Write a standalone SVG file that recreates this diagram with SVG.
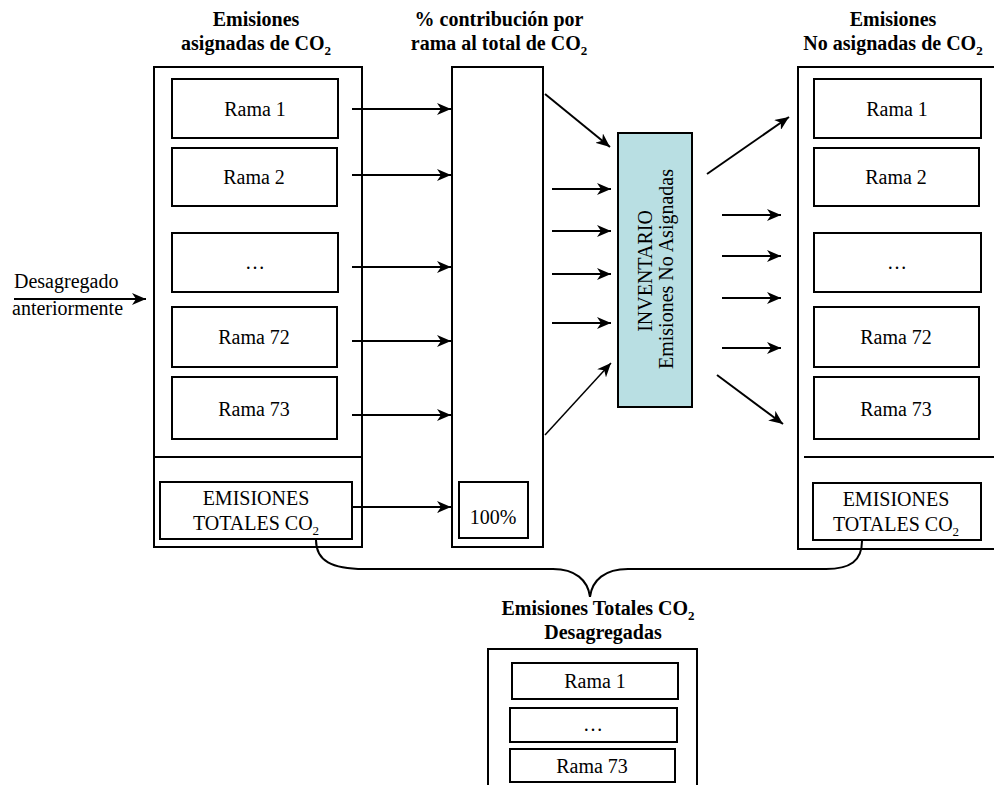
<svg xmlns="http://www.w3.org/2000/svg" width="994" height="785" viewBox="0 0 994 785">
  <defs>
    <marker id="arrow" markerUnits="userSpaceOnUse" markerWidth="16" markerHeight="12" refX="14" refY="6" orient="auto">
      <path d="M0,0 L14,6 L0,12 L4,6 Z" fill="#000"/>
    </marker>
    <style>
      .box { fill: #fff; stroke: #000; stroke-width: 2; }
      .frame { fill: none; stroke: #000; stroke-width: 2; }
      .inv { fill: #b9dfe3; stroke: #000; stroke-width: 2; }
      .t { font-family: "Liberation Serif", "Times New Roman", serif; font-size: 20px; fill: #000; }
      .c { text-anchor: middle; }
      .h { font-family: "Liberation Serif", "Times New Roman", serif; font-size: 20px; font-weight: bold; fill: #000; text-anchor: middle; }
      .sub { font-size: 13px; }
      .arr { stroke: #000; stroke-width: 2; fill: none; marker-end: url(#arrow); }
      .thin { stroke-width: 1.5; }
      .brace { stroke: #000; stroke-width: 2; fill: none; }
    </style>
  </defs>

  <!-- column headings -->
  <g id="heading-assigned">
    <text class="h" x="256" y="26">Emisiones</text>
    <text class="h" x="256" y="50">asignadas de CO<tspan class="sub" dy="5">2</tspan></text>
  </g>
  <g id="heading-contribution">
    <text class="h" x="499" y="26">% contribución por</text>
    <text class="h" x="499" y="50">rama al total de CO<tspan class="sub" dy="5">2</tspan></text>
  </g>
  <g id="heading-unassigned">
    <text class="h" x="893" y="26">Emisiones</text>
    <text class="h" x="893" y="50">No asignadas de CO<tspan class="sub" dy="5">2</tspan></text>
  </g>

  <!-- left column: assigned emissions -->
  <g id="assigned">
    <rect class="frame" x="154" y="67" width="208" height="480"/>
    <line x1="154" y1="457" x2="362" y2="457" stroke="#000" stroke-width="2"/>
    <g id="a-rama1"><rect class="box" x="172" y="79" width="166" height="59"/><text class="t c" x="255" y="116">Rama 1</text></g>
    <g id="a-rama2"><rect class="box" x="172" y="148" width="165" height="58"/><text class="t c" x="254" y="184">Rama 2</text></g>
    <g id="a-dots"><rect class="box" x="172" y="233" width="166" height="59"/><text class="t c" x="255" y="269">…</text></g>
    <g id="a-rama72"><rect class="box" x="172" y="307" width="165" height="60"/><text class="t c" x="254" y="344">Rama 72</text></g>
    <g id="a-rama73"><rect class="box" x="172" y="377" width="165" height="62"/><text class="t c" x="254" y="416">Rama 73</text></g>
    <g id="a-total">
      <rect class="box" x="160" y="482" width="192" height="57"/>
      <text class="t c" x="256" y="505">EMISIONES</text>
      <text class="t c" x="256" y="530">TOTALES CO<tspan class="sub" dy="5">2</tspan></text>
    </g>
  </g>

  <!-- middle column: share per branch -->
  <g id="contribution">
    <rect class="frame" x="452" y="67" width="91" height="480"/>
    <g id="c-total"><rect class="box" x="459" y="482" width="69" height="56"/><text class="t c" x="493" y="524">100%</text></g>
  </g>

  <!-- inventory of unassigned emissions -->
  <g id="inventario">
    <rect class="inv" x="618" y="133" width="74" height="274"/>
    <text class="t c" transform="translate(652,271) rotate(-90)">INVENTARIO</text>
    <text class="t c" transform="translate(673,269) rotate(-90)">Emisiones No Asignadas</text>
  </g>

  <!-- right column: unassigned emissions -->
  <g id="unassigned">
    <path class="frame" d="M1000,67 L798,67 L798,549 L1000,549"/>
    <line x1="804" y1="457" x2="994" y2="457" stroke="#000" stroke-width="2"/>
    <g id="u-rama1"><rect class="box" x="814" y="79" width="167" height="59"/><text class="t c" x="897" y="116">Rama 1</text></g>
    <g id="u-rama2"><rect class="box" x="814" y="148" width="165" height="58"/><text class="t c" x="896" y="184">Rama 2</text></g>
    <g id="u-dots"><rect class="box" x="814" y="233" width="167" height="59"/><text class="t c" x="897" y="269">…</text></g>
    <g id="u-rama72"><rect class="box" x="814" y="307" width="165" height="60"/><text class="t c" x="896" y="344">Rama 72</text></g>
    <g id="u-rama73"><rect class="box" x="814" y="377" width="165" height="62"/><text class="t c" x="896" y="416">Rama 73</text></g>
    <g id="u-total">
      <rect class="box" x="813" y="483" width="168" height="57"/>
      <text class="t c" x="896" y="506">EMISIONES</text>
      <text class="t c" x="896" y="531">TOTALES CO<tspan class="sub" dy="5">2</tspan></text>
    </g>
  </g>

  <!-- input label -->
  <g id="desagregado">
    <text class="t" x="14" y="288">Desagregado</text>
    <text class="t" x="12" y="315">anteriormente</text>
  </g>

  <!-- bottom: disaggregated totals -->
  <g id="heading-total">
    <text class="h" x="598" y="615">Emisiones Totales CO<tspan class="sub" dy="5">2</tspan></text>
    <text class="h" x="603" y="639">Desagregadas</text>
  </g>
  <g id="disaggregated">
    <path class="frame" d="M488,790 L488,649 L697,649 L697,790"/>
    <g id="d-rama1"><rect class="box" x="512" y="663" width="166" height="36"/><text class="t c" x="595" y="688">Rama 1</text></g>
    <g id="d-dots"><rect class="box" x="510" y="708" width="167" height="34"/><text class="t c" x="593" y="731">…</text></g>
    <g id="d-rama73"><rect class="box" x="510" y="749" width="165" height="33"/><text class="t c" x="592" y="773">Rama 73</text></g>
  </g>

  <!-- connectors -->
  <g id="connectors">
    <line class="arr" x1="14" y1="299" x2="146" y2="299"/>
    <line class="arr" x1="352" y1="109" x2="451" y2="109"/>
    <line class="arr" x1="352" y1="175" x2="451" y2="175"/>
    <line class="arr" x1="352" y1="267" x2="451" y2="267"/>
    <line class="arr" x1="352" y1="341" x2="451" y2="341"/>
    <line class="arr" x1="352" y1="415" x2="451" y2="415"/>
    <line class="arr" x1="352" y1="507" x2="451" y2="507"/>

    <line class="arr" x1="545" y1="94" x2="610" y2="147"/>
    <line class="arr" x1="552" y1="189" x2="611" y2="189"/>
    <line class="arr" x1="552" y1="231" x2="611" y2="231"/>
    <line class="arr" x1="552" y1="274" x2="611" y2="274"/>
    <line class="arr" x1="552" y1="323" x2="611" y2="323"/>
    <line class="arr thin" x1="545" y1="435" x2="611" y2="363"/>

    <line class="arr" x1="707" y1="174" x2="789" y2="117"/>
    <line class="arr" x1="722" y1="215" x2="781" y2="215"/>
    <line class="arr" x1="722" y1="256" x2="781" y2="256"/>
    <line class="arr" x1="722" y1="298" x2="781" y2="298"/>
    <line class="arr" x1="722" y1="348" x2="781" y2="348"/>
    <line class="arr" x1="717" y1="375" x2="783" y2="424"/>

    <path class="brace" d="M316,540 C316,561 332,569 364,569 L553,569 C575,569 588,580 590,597 C592,580 605,569 628,569 L826,569 C850,569 862,561 862,541"/>
  </g>
</svg>
